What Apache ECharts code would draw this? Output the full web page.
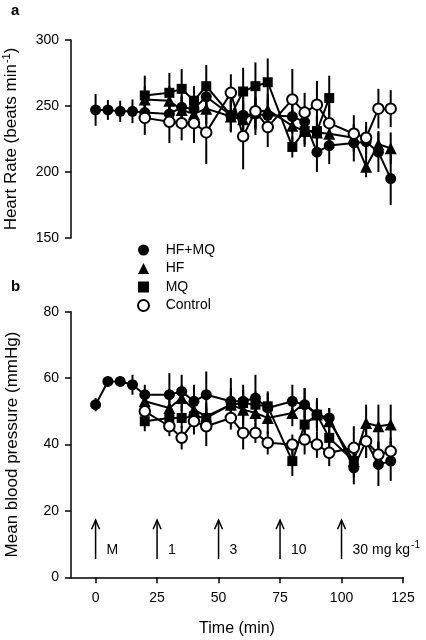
<!DOCTYPE html>
<html>
<head>
<meta charset="utf-8">
<script src="https://cdn.jsdelivr.net/npm/echarts@6/dist/echarts.min.js"></script>
<style>html,body{margin:0;padding:0;background:#fff}#c{width:426px;height:640px}</style>
</head>
<body>
<div id="c"></div>
<script>
// ---- data ----
const timesHFMQ = [0,5,10,15,20,30,35,40,45,55,60,65,70,80,85,90,95,105,110,115,120];
const timesGroup = [20,30,35,40,45,55,60,65,70,80,85,90,95,105,110,115,120];
const timesMQTop = [20,30,35,40,45,55,60,65,70,80,85,90,95];
const timesMQBottom = [20,30,35,40,45,55,60,65,70,80,85,90,95,105];

// Heart rate (beats/min), mean and SEM
const hrHFMQ    = [247,247,246,246,245,244,249,248,257,243,243,244,243,242,238,215,220,222,223,215,195];
const hrHFMQErr = [12,7.5,8,9,8,10,9,10,12,12,14,12,12,13,12,15,14,14,12,15,20];
const hrHF      = [255,254,247,244,248,242,240,245,247,235,231,230,229,226,204,221,218];
const hrHFErr   = [10,11,10,10,12,12,14,12,12,12,12,12,12,10,8,10,12];
const hrMQ      = [258,260,263,254,265,243,261,265,268,219,231,231,256];
const hrMQErr   = [15,15,15,11,16,12,18,18,18,8,10,12,17];
const hrCtrl    = [241,238,237,237,230,260,227,246,234,255,245,251,237,229,226,248,248];
const hrCtrlErr = [13,16,13,15,24,14,25,18,15,23,15,18,14,14,12,15,14];

// Mean blood pressure (mmHg), mean and SEM
const mbpHFMQ    = [52,59,59,58,55,55,56,53,55,53,53,54,51,53,52,49,48,33,41,34,35];
const mbpHFMQErr = [2,1.5,1.5,3,3,6.5,5,5,7,7,5,7,5,5,5,5,3,5,5,6.5,6];
const mbpHF      = [53,51,54,50.5,48.5,52,50.5,49.5,48,49.5,52.5,49,47,35,46.5,45.5,46];
const mbpHFErr   = [3,4,4,4,4,5,5,5,5,4,4.5,4,4,5,5.5,6.5,6];
const mbpMQ      = [47,48,48,48.5,48,52,52.5,52,51.5,35,46,49,42,35];
const mbpMQErr   = [3,3,3,3,3,4,4,4,4,4.5,4,4,4,4];
const mbpCtrl    = [50,45.5,42,47,45.5,48,43.5,43.5,40.5,40,41.5,40,37.5,39,41,37,38];
const mbpCtrlErr = [3,3,3.5,4,6,3.5,5,3,3.5,3,4.5,4,4,6.5,5,4,4];

// Dose injection markers
const doseTimes  = [0,25,50,75,100];
const doseLabels = ['M','1','3','10','30 mg kg{sup|-1}'];

const hrTicks = [150,200,250,300];
const mbpTicks = [0,20,40,60,80];
const timeTicks = [0,25,50,75,100,125];

// ---- build ----
const FONT = '"Liberation Sans", Arial, Helvetica, sans-serif';
const pairs = (t, v) => t.map((x, i) => [x, v[i]]);
const triples = (t, v, e) => t.map((x, i) => [x, v[i], e[i]]);

const styles = {
  'HF+MQ':   {symbol: 'circle',   symbolSize: 11, itemStyle: {color: '#000', borderColor: '#000', borderWidth: 0}},
  'HF':      {symbol: 'triangle', symbolSize: 12, itemStyle: {color: '#000', borderColor: '#000', borderWidth: 0}},
  'MQ':      {symbol: 'rect',     symbolSize: 10, itemStyle: {color: '#000', borderColor: '#000', borderWidth: 0}},
  'Control': {symbol: 'circle',   symbolSize: 10.5, itemStyle: {color: '#fff', borderColor: '#000', borderWidth: 2}}
};

function lineSeries(name, gi, t, v, z) {
  const s = styles[name];
  return {
    type: 'line', name: name, xAxisIndex: gi, yAxisIndex: gi,
    data: pairs(t, v), symbol: s.symbol, symbolSize: s.symbolSize,
    showSymbol: true, itemStyle: s.itemStyle,
    lineStyle: {color: '#000', width: 2}, z: z, animation: false
  };
}
function errSeries(name, gi, t, v, e) {
  return {
    type: 'custom', name: name + '_err', xAxisIndex: gi, yAxisIndex: gi,
    data: triples(t, v, e), encode: {x: 0, y: 1}, z: 1, silent: true,
    renderItem: function (params, api) {
      const x = api.value(0), m = api.value(1), e = api.value(2);
      const p1 = api.coord([x, m - e]), p2 = api.coord([x, m + e]);
      return {type: 'line', shape: {x1: p1[0], y1: p1[1], x2: p2[0], y2: p2[1]},
              style: {stroke: '#000', lineWidth: 2}};
    }
  };
}

const arrowSeries = {
  type: 'custom', name: 'doses', xAxisIndex: 1, yAxisIndex: 1, silent: true, z: 3,
  data: doseTimes.map((t, i) => [t, i]), encode: {x: 0},
  renderItem: function (params, api) {
    const x = api.value(0), idx = api.value(1);
    const pTop = api.coord([x, 17.2]), pBot = api.coord([x, 5.5]), pLab = api.coord([x, 8.2]);
    return {type: 'group', children: [
      {type: 'line', shape: {x1: pBot[0], y1: pBot[1], x2: pTop[0], y2: pTop[1]}, style: {stroke: '#000', lineWidth: 1.5}},
      {type: 'polyline', shape: {points: [[pTop[0] - 4, pTop[1] + 9], [pTop[0], pTop[1]], [pTop[0] + 4, pTop[1] + 9]]}, style: {stroke: '#000', lineWidth: 1.5, fill: null}},
      {type: 'text', x: pLab[0] + 11, y: pLab[1], style: {
        text: doseLabels[idx], fill: '#000', font: '14px ' + FONT, verticalAlign: 'middle', align: 'left',
        rich: {sup: {fontSize: 10, fontFamily: FONT, verticalAlign: 'top', padding: [0, 0, 9, 1]}}
      }}
    ]};
  }
};

const axisLineStyle = {color: '#000', width: 1.5};
const labelStyle = {color: '#000', fontSize: 14, fontFamily: FONT};

const option = {
  animation: false,
  backgroundColor: '#fff',
  title: [
    {text: 'a', left: 6, top: -2, textStyle: {fontSize: 15, fontWeight: 'bold', fontFamily: FONT, color: '#000'}},
    {text: 'b', left: 6, top: 274, textStyle: {fontSize: 15, fontWeight: 'bold', fontFamily: FONT, color: '#000'}}
  ],
  legend: {
    orient: 'vertical', left: 132, top: 238, itemWidth: 11, itemHeight: 11, itemGap: 4.5,
    selectedMode: false,
    data: [{name: 'HF+MQ', icon: 'circle'}, {name: 'HF', icon: 'triangle'}, {name: 'MQ', icon: 'rect'}, {name: 'Control', icon: 'circle'}],
    formatter: n => '   ' + n,
    textStyle: {color: '#000', fontSize: 14, fontFamily: FONT}
  },
  grid: [
    {left: 71, top: 40, width: 332, height: 198, outerBoundsMode: 'none', containLabel: false},
    {left: 71, top: 311.7, width: 332, height: 265.6, outerBoundsMode: 'none', containLabel: false}
  ],
  xAxis: [
    {type: 'value', gridIndex: 0, min: -10, max: 125, show: false},
    {type: 'value', gridIndex: 1, min: -10, max: 125, interval: 5,
     splitLine: {show: false},
     axisLine: {show: true, onZero: false, lineStyle: axisLineStyle},
     axisTick: {show: true, length: 6, lineStyle: axisLineStyle, customValues: timeTicks},
     axisLabel: Object.assign({margin: 14, customValues: timeTicks}, labelStyle),
     name: 'Time (min)', nameLocation: 'middle', nameGap: 43,
     nameTextStyle: {color: '#000', fontSize: 16, fontFamily: FONT}}
  ],
  yAxis: [
    {type: 'value', gridIndex: 0, min: 150, max: 300, interval: 50,
     splitLine: {show: false},
     axisLine: {show: true, onZero: false, lineStyle: axisLineStyle},
     axisTick: {show: true, length: 6, lineStyle: axisLineStyle, customValues: hrTicks},
     axisLabel: Object.assign({margin: 12, customValues: hrTicks}, labelStyle),
     name: 'Heart Rate (beats min{sup|-1})', nameLocation: 'middle', nameRotate: 90, nameGap: 50,
     nameTextStyle: {color: '#000', fontSize: 17, fontFamily: FONT,
       rich: {sup: {fontSize: 11, fontFamily: FONT, color: '#000', verticalAlign: 'top', padding: [0, 0, 9, 1]}}}},
    {type: 'value', gridIndex: 1, min: 0, max: 80, interval: 20,
     splitLine: {show: false},
     axisLine: {show: true, onZero: false, lineStyle: axisLineStyle},
     axisTick: {show: true, length: 6, lineStyle: axisLineStyle, customValues: mbpTicks},
     axisLabel: Object.assign({margin: 12, customValues: mbpTicks}, labelStyle),
     name: 'Mean blood pressure (mmHg)', nameLocation: 'middle', nameRotate: 90, nameGap: 50,
     nameTextStyle: {color: '#000', fontSize: 17, fontFamily: FONT}}
  ],
  series: [
    errSeries('MQ', 0, timesMQTop, hrMQ, hrMQErr),
    errSeries('HF', 0, timesGroup, hrHF, hrHFErr),
    errSeries('HF+MQ', 0, timesHFMQ, hrHFMQ, hrHFMQErr),
    errSeries('Control', 0, timesGroup, hrCtrl, hrCtrlErr),
    lineSeries('MQ', 0, timesMQTop, hrMQ, 2),
    lineSeries('HF', 0, timesGroup, hrHF, 3),
    lineSeries('HF+MQ', 0, timesHFMQ, hrHFMQ, 4),
    lineSeries('Control', 0, timesGroup, hrCtrl, 5),
    errSeries('MQ', 1, timesMQBottom, mbpMQ, mbpMQErr),
    errSeries('HF', 1, timesGroup, mbpHF, mbpHFErr),
    errSeries('HF+MQ', 1, timesHFMQ, mbpHFMQ, mbpHFMQErr),
    errSeries('Control', 1, timesGroup, mbpCtrl, mbpCtrlErr),
    lineSeries('MQ', 1, timesMQBottom, mbpMQ, 2),
    lineSeries('HF', 1, timesGroup, mbpHF, 3),
    lineSeries('HF+MQ', 1, timesHFMQ, mbpHFMQ, 4),
    lineSeries('Control', 1, timesGroup, mbpCtrl, 5),
    arrowSeries
  ]
};

const chart = echarts.init(document.getElementById('c'), null, {renderer: 'canvas'});
chart.setOption(option);
</script>
</body>
</html>
